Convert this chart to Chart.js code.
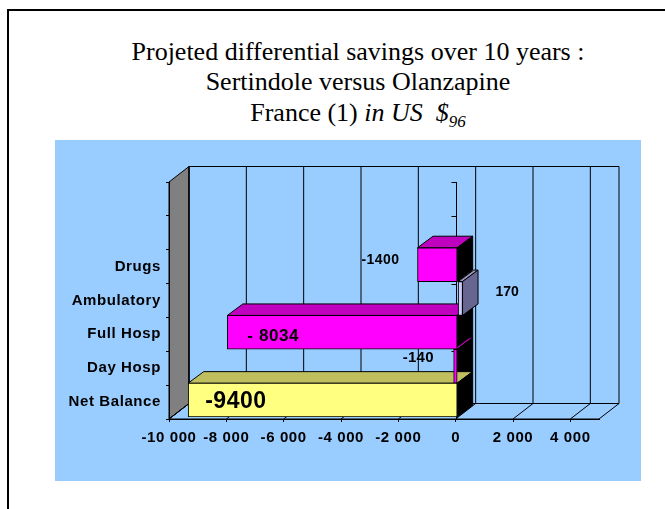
<!DOCTYPE html>
<html lang="en">

<head>
    <meta charset="UTF-8">
    <title>Projeted differential savings</title>
    <script src="https://cdn.jsdelivr.net/npm/chart.js"></script>
    <style>
        html, body { margin: 0; padding: 0; background: #fff; overflow: hidden; }
        .moldura { position: absolute; left: 7px; top: 9px; width: 670px; height: 520px; border: 2px solid #000; }
        .titulo { position: absolute; left: 0; width: 716px; text-align: center; font-family: "Liberation Serif", serif; font-size: 26px; color: #000; line-height: 30px; white-space: nowrap; }
        .titulo sub { font-size: 17px; line-height: 0; vertical-align: -6px; }
        .painel { position: absolute; left: 55px; top: 140px; width: 586px; height: 341px; background: #99CCFF; }
    </style>
</head>

<body>
    <div class="moldura"></div>
    <div class="titulo" style="top:37px">Projeted differential savings over 10 years :</div>
    <div class="titulo" style="top:67px">Sertindole versus Olanzapine</div>
    <div class="titulo" style="top:98px">France (1) <i>in US &nbsp;$<sub>96</sub></i></div>
    <div class="painel"><canvas id="grafico" width="586" height="341"></canvas></div>

    <script>
        const categorias = ['', '', 'Drugs', 'Ambulatory', 'Full Hosp', 'Day Hosp', 'Net Balance'];
        const valores = [null, null, -1400, 170, -8034, -140, -9400];
        const rotulos = ['', '', '-1400', '170', '- 8034', '-140', '-9400'];
        const ticksX = [-10000, -8000, -6000, -4000, -2000, 0, 2000, 4000];

        const coresFrente = ['#FF00FF', '#FF00FF', '#FF00FF', '#CCCCFF', '#FF00FF', '#FF00FF', '#FFFF80'];
        const coresTopo = ['#BF00BF', '#BF00BF', '#BF00BF', '#9999BF', '#BF00BF', '#BF00BF', '#BFBF60'];
        const coresLado = ['#000', '#000', '#000', '#666690', '#000', '#000', '#000'];

        // posicao e tamanho de cada rotulo, relativo a ponta da barra
        const estiloRotulos = [null, null,
            { dx: -54, dy: -7, size: 14, sp: 0.4 },
            { dx: 35, dy: -8, size: 14, sp: 0 },
            { dx: 22, dy: 2, size: 17, sp: 0.6 },
            { dx: -49, dy: -10, size: 15, sp: 0.3 },
            { dx: 19, dy: 0, size: 23, sp: 0.5 }
        ];

        const paredeX = 20, paredeY = 15.5; // profundidade das paredes
        const barraX = 15.5, barraY = 11.5; // profundidade das barras
        const recuo = 2; // barras ficam um pouco para dentro

        function poligono(ctx, pontos, cor) {
            ctx.beginPath();
            ctx.moveTo(pontos[0][0], pontos[0][1]);
            for (let i = 1; i < pontos.length; i++) {
                ctx.lineTo(pontos[i][0], pontos[i][1]);
            }
            ctx.closePath();
            if (cor) {
                ctx.fillStyle = cor;
                ctx.fill();
            }
            ctx.strokeStyle = '#000';
            ctx.lineWidth = 1;
            ctx.stroke();
        }

        const falso3d = {
            id: 'falso3d',
            beforeDraw(chart) {
                const ctx = chart.ctx;
                const a = chart.chartArea;
                const x = chart.scales.x;
                const y = chart.scales.y;

                // espacamento das letras dos eixos
                ctx.letterSpacing = '0.6px';

                ctx.save();
                // parede lateral
                poligono(ctx, [[a.left, a.top], [a.left + paredeX, a.top - paredeY], [a.left + paredeX, a.bottom - paredeY], [a.left, a.bottom]], '#808080');
                // fundo
                poligono(ctx, [[a.left + paredeX, a.top - paredeY], [a.right + paredeX, a.top - paredeY], [a.right + paredeX, a.bottom - paredeY], [a.left + paredeX, a.bottom - paredeY]], null);
                // chao
                poligono(ctx, [[a.left, a.bottom], [a.left + paredeX, a.bottom - paredeY], [a.right + paredeX, a.bottom - paredeY], [a.right, a.bottom]], null);

                ticksX.forEach(v => {
                    const px = x.getPixelForValue(v);
                    ctx.beginPath();
                    ctx.moveTo(px, a.bottom);
                    ctx.lineTo(px + paredeX, a.bottom - paredeY);
                    ctx.lineTo(px + paredeX, a.top - paredeY);
                    ctx.stroke();
                });

                // eixo das categorias passando pelo zero
                const zero = Math.round(x.getPixelForValue(0)) + 0.5;
                ctx.beginPath();
                ctx.moveTo(zero, a.top);
                ctx.lineTo(zero, a.bottom);
                for (let i = 0; i <= categorias.length; i++) {
                    const py = Math.round(y.getPixelForValue(i - 0.5)) + 0.5;
                    ctx.moveTo(zero - 5, py);
                    ctx.lineTo(zero, py);
                }
                ctx.stroke();
                ctx.restore();
            },
            beforeDatasetsDraw(chart) {
                const ctx = chart.ctx;
                const barras = chart.getDatasetMeta(0).data;

                ctx.save();
                ctx.translate(recuo, -recuo);

                // positivas por ultimo: ficam na frente das laterais pretas
                const ordem = [];
                valores.forEach((v, i) => { if (v !== null && v <= 0) ordem.push(i); });
                valores.forEach((v, i) => { if (v !== null && v > 0) ordem.push(i); });

                ordem.forEach(i => {
                    const b = barras[i];
                    const esq = Math.min(b.x, b.base);
                    const dir = Math.max(b.x, b.base);
                    const cima = b.y - b.height / 2;
                    const baixo = b.y + b.height / 2;
                    poligono(ctx, [[esq, cima], [esq + barraX, cima - barraY], [dir + barraX, cima - barraY], [dir, cima]], coresTopo[i]);
                    poligono(ctx, [[dir, cima], [dir + barraX, cima - barraY], [dir + barraX, baixo - barraY], [dir, baixo]], coresLado[i]);
                });
            },
            afterDatasetsDraw(chart) {
                const ctx = chart.ctx;
                const barras = chart.getDatasetMeta(0).data;
                ctx.restore();

                ctx.save();
                ctx.fillStyle = '#000';
                ctx.textAlign = 'left';
                ctx.textBaseline = 'middle';
                rotulos.forEach((texto, i) => {
                    const est = estiloRotulos[i];
                    if (!est) return;
                    ctx.font = 'bold ' + est.size + 'px "Liberation Sans"';
                    ctx.letterSpacing = est.sp + 'px';
                    ctx.fillText(texto, barras[i].x + est.dx, barras[i].y + est.dy);
                });
                ctx.restore();
            }
        };

        new Chart(document.getElementById('grafico').getContext('2d'), {
            type: 'bar',
            data: {
                labels: categorias,
                datasets: [{
                    data: valores,
                    backgroundColor: coresFrente,
                    borderColor: '#000',
                    borderWidth: 1,
                    borderSkipped: false,
                    barPercentage: 1,
                    categoryPercentage: 1
                }]
            },
            options: {
                indexAxis: 'y',
                responsive: false,
                animation: false,
                layout: { padding: { top: 42, right: 42, bottom: 0, left: 0 } },
                plugins: {
                    legend: { display: false },
                    title: { display: false },
                    tooltip: { enabled: false }
                },
                scales: {
                    x: {
                        min: -10000,
                        max: 5000,
                        afterBuildTicks(scale) {
                            scale.ticks = ticksX.map(v => ({ value: v }));
                        },
                        afterFit(scale) {
                            scale.height = 62;
                        },
                        grid: { drawOnChartArea: false, tickLength: 3, color: '#000' },
                        border: { color: '#000' },
                        ticks: {
                            autoSkip: false,
                            maxRotation: 0,
                            padding: 7,
                            color: '#000',
                            font: { family: '"Liberation Sans"', size: 15, weight: 'bold' },
                            callback(v) {
                                const n = Math.abs(v);
                                const txt = n >= 1000 ? Math.floor(n / 1000) + ' 000' : '' + n;
                                return v < 0 ? '-' + txt : txt;
                            }
                        }
                    },
                    y: {
                        afterFit(scale) {
                            scale.width = 114;
                        },
                        grid: { drawOnChartArea: false, tickLength: 3, color: '#000', offset: true },
                        border: { color: '#000' },
                        ticks: {
                            autoSkip: false,
                            padding: 5,
                            color: '#000',
                            font: { family: '"Liberation Sans"', size: 15, weight: 'bold' }
                        }
                    }
                }
            },
            plugins: [falso3d]
        });
    </script>
</body>

</html>
